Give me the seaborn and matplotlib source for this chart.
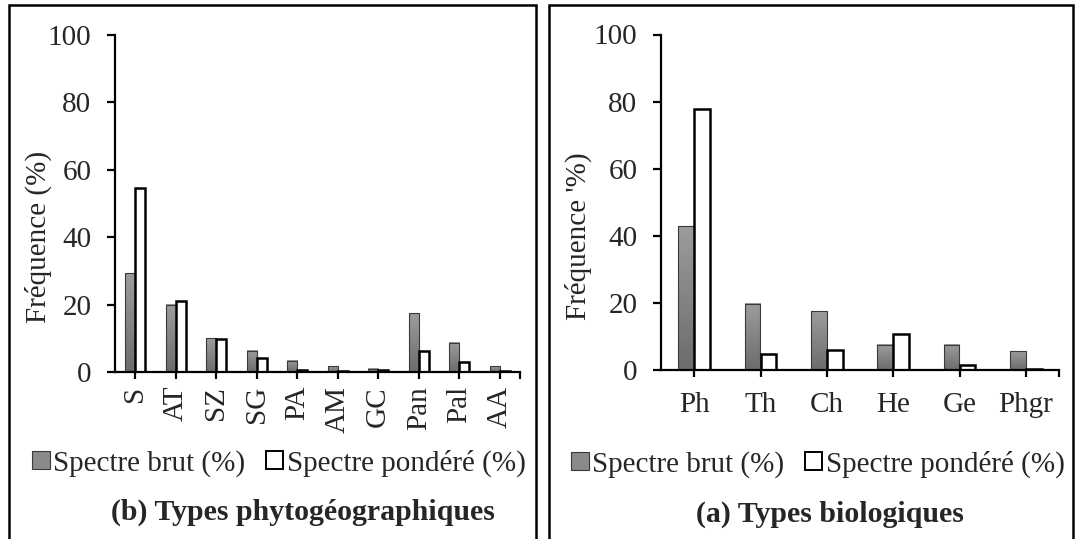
import numpy as np
import pandas as pd
import seaborn as sns
import matplotlib.pyplot as plt
from matplotlib.patches import Rectangle, Patch
from matplotlib.colors import LinearSegmentedColormap

# Types phytogéographiques (b)
geo_types = ["S", "AT", "SZ", "SG", "PA", "AM", "GC", "Pan", "Pal", "AA"]
geo_brut = [29.3, 19.9, 10.0, 6.3, 3.3, 1.7, 1.0, 17.4, 8.7, 1.7]
geo_pond = [54.6, 21.2, 9.9, 4.1, 0.5, 0.4, 0.7, 6.3, 3.1, 0.4]

# Types biologiques (a)
bio_types = ["Ph", "Th", "Ch", "He", "Ge", "Phgr"]
bio_brut = [42.9, 19.7, 17.5, 7.5, 7.5, 5.6]
bio_pond = [77.8, 4.9, 5.9, 10.6, 1.4, 0.4]

lab_brut = "Spectre brut (%)"
lab_pond = "Spectre pondéré (%)"

sns.set_theme(style="white")
plt.rcParams["font.family"] = ["Liberation Serif", "DejaVu Serif"]

W, H = 1077, 539
FS = 21
fig = plt.figure(figsize=(W / 100, H / 100), dpi=100)

grey_cmap = LinearSegmentedColormap.from_list("g", ["#6c6c6c", "#9c9c9c"])


def px(x0, y0, x1, y1):
    # pixel box (top-left origin) -> figure fraction rect
    return [x0 / W, 1 - y1 / H, (x1 - x0) / W, (y1 - y0) / H]


def panel(rect, cats, brut, pond, width, rot, ylabel, ylab_x):
    ax = fig.add_axes(rect)
    df = pd.DataFrame({
        "cat": cats * 2,
        "val": brut + pond,
        "serie": [lab_brut] * len(cats) + [lab_pond] * len(cats),
    })
    sns.barplot(data=df, x="cat", y="val", hue="serie", ax=ax, width=width,
                palette={lab_brut: "#888888", lab_pond: "white"},
                saturation=1, legend=False, errorbar=None)
    for bar in ax.containers[0]:
        bar.set_edgecolor("#3a3a3a")
        bar.set_linewidth(0.8)
        x0, y0 = bar.get_x(), bar.get_y()
        x1, y1 = x0 + bar.get_width(), y0 + bar.get_height()
        grad = np.linspace(0, 1, 100).reshape(-1, 1)
        ax.imshow(grad, extent=[x0, x1, y0, y1], origin="lower",
                  cmap=grey_cmap, aspect="auto", zorder=0.9)
        bar.set_facecolor("none")
    for bar in ax.containers[1]:
        bar.set_edgecolor("black")
        bar.set_linewidth(1.8)

    n = len(cats)
    ax.set_xlim(-0.5, n - 0.5)
    ax.set_ylim(0, 100)
    ax.set_yticks([0, 20, 40, 60, 80, 100])
    ax.set_xticks([n - 0.5], minor=True)
    ax.set_xlabel("")
    ax.set_ylabel(ylabel, fontsize=FS, va="center")
    ax.yaxis.set_label_coords(ylab_x, 0.40)
    sns.despine(ax=ax)
    for s in ["left", "bottom"]:
        ax.spines[s].set_color("black")
        ax.spines[s].set_linewidth(1.6)
    ax.tick_params(axis="y", which="major", direction="out", length=6, width=1.6,
                   color="black", labelsize=FS, pad=11, left=True)
    ax.tick_params(axis="x", which="both", direction="out", length=5, width=1.6,
                   color="black", labelsize=FS, bottom=True)
    ax.tick_params(axis="x", which="major", pad=5 if rot else 11)
    if rot:
        plt.setp(ax.get_xticklabels(), rotation=90)
    ax.patch.set_alpha(0)
    return ax


ax_b = panel(px(115, 35, 520, 372), geo_types, geo_brut, geo_pond, 0.5, True,
             "Fréquence (%)", -0.19)
ax_a = panel(px(661, 34.5, 1059, 370), bio_types, bio_brut, bio_pond, 0.48, False,
             "Fréquence '%)", -0.2085)

# panel frames
for x0, x1 in [(9, 536), (549, 1073)]:
    fig.add_artist(Rectangle((x0 / W, -0.02), (x1 - x0) / W, 1 - 5 / H + 0.02,
                             transform=fig.transFigure, fill=False,
                             edgecolor="black", linewidth=1.8))

handles = [Patch(facecolor="#8a8a8a", edgecolor="#3a3a3a", linewidth=0.8, label=lab_brut),
           Patch(facecolor="white", edgecolor="black", linewidth=1.4, label=lab_pond)]
for cx, cy in [(279 / W, 1 - 463 / H), (818 / W, 1 - 464 / H)]:
    fig.legend(handles=handles, loc="center", bbox_to_anchor=(cx, cy), ncol=2,
               frameon=False, fontsize=FS, handlelength=0.6, handleheight=0.6,
               handletextpad=0.12, columnspacing=0.7, borderpad=0, borderaxespad=0)

fig.text(303 / W, 1 - 512 / H, "(b) Types phytogéographiques", fontsize=21.5,
         fontweight="bold", ha="center", va="center")
fig.text(830 / W, 1 - 514 / H, "(a) Types biologiques", fontsize=21.5,
         fontweight="bold", ha="center", va="center")

fig.savefig("out.png", dpi=100, facecolor="white")
